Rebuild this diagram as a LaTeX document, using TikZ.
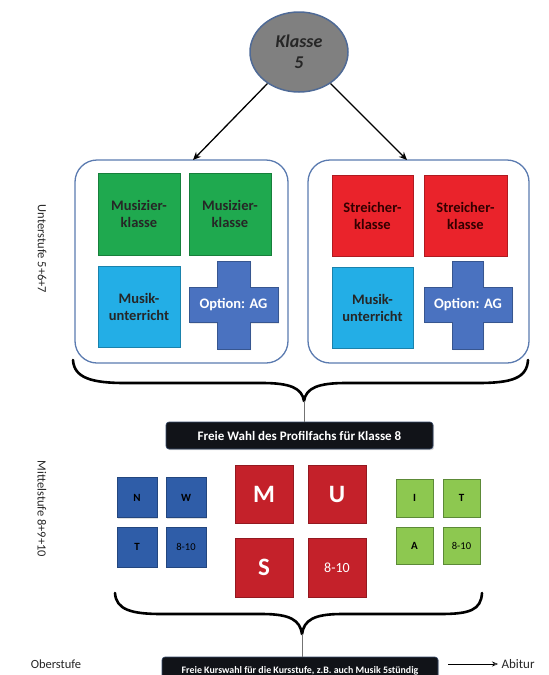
\documentclass[tikz,border=0pt]{standalone}
\usepackage{fontspec}
\setmainfont{Carlito}
\usetikzlibrary{arrows.meta,shapes.geometric,shadows}
\definecolor{gGreen}{HTML}{1FA94F}
\definecolor{lBlue}{HTML}{23AEE6}
\definecolor{xBlue}{HTML}{4A72C0}
\definecolor{tRed}{HTML}{EA232B}
\definecolor{mRed}{HTML}{C4212A}
\definecolor{dBlue}{HTML}{2F5DA8}
\definecolor{lGreen}{HTML}{8DC850}
\definecolor{lGreenB}{HTML}{5C8A37}
\definecolor{grpB}{HTML}{5B7BB0}
\definecolor{ellB}{HTML}{4F6A96}
\definecolor{boxK}{HTML}{111318}
\tikzset{
  sq/.style={rectangle, draw=#1!75!black, fill=#1, line width=0.6pt, align=center, inner sep=1pt,
    drop shadow={opacity=0.25, shadow xshift=1.2pt, shadow yshift=-1.2pt}},
  bigtxt/.style={font=\fontsize{14.5}{17}\selectfont\bfseries},
  grp/.style={rectangle, rounded corners=22pt, draw=grpB, line width=1.3pt, fill=white},
  crossst/.style={fill=xBlue, draw=xBlue!75!black, line width=0.6pt,
    drop shadow={opacity=0.25, shadow xshift=1.2pt, shadow yshift=-1.2pt}},
  blackbox/.style={rectangle, rounded corners=3pt, fill=boxK, draw=grpB!60!black, line width=0.6pt, text=white,
    drop shadow={opacity=0.3, shadow xshift=1.2pt, shadow yshift=-1.2pt}},
  bracest/.style={line width=2.6pt, line cap=round, line join=round},
  sidelabel/.style={font=\fontsize{12.5}{14}\selectfont, rotate=-90, text=black!85},
  smallbl/.style={font=\fontsize{11}{12}\selectfont\bfseries},
  smallnum/.style={font=\fontsize{10.5}{12}\selectfont},
}
\begin{document}
\begin{tikzpicture}[x=1pt,y=-1pt]
\useasboundingbox (0,0) rectangle (549,675);

% top ellipse
\node[ellipse, fill=black!50, draw=ellB, line width=1.5pt, minimum width=98pt, minimum height=80pt,
  align=center, font=\fontsize{18}{21}\selectfont\bfseries\itshape, text=black!85] (k) at (299,52) {Klasse\\5};

% group boxes
\node[grp, minimum width=213pt, minimum height=203pt] (L) at (181.5,261.5) {};
\node[grp, minimum width=221pt, minimum height=203pt] (R) at (418.5,261.5) {};

\coordinate (lt) at (193,160);
\coordinate (rt) at (407,160);
\draw[line width=1.3pt, -{Stealth[length=8pt,width=7pt]}] (k.225) -- (lt);
\draw[line width=1.3pt, -{Stealth[length=8pt,width=7pt]}] (k.-45) -- (rt);

% left group
\node[sq=gGreen, bigtxt, minimum width=82pt, minimum height=82pt, text=black!85] (g1) at (139,214) {Musizier-\\klasse};
\node[sq=gGreen, bigtxt, minimum width=82pt, minimum height=82pt, text=black!85] (g2) at (230,214) {Musizier-\\klasse};
\node[sq=lBlue, bigtxt, minimum width=82pt, minimum height=81pt, text=black!85] (b1) at (139,306.5) {Musik-\\unterricht};
\draw[crossst] (189,287.5) -- (217,287.5) -- (217,261) -- (250,261) -- (250,287.5) -- (278,287.5)
  -- (278,322.5) -- (250,322.5) -- (250,349) -- (217,349) -- (217,322.5) -- (189,322.5) -- cycle;
\node[bigtxt, text=white] (o1) at (233.5,305) {Option: AG};

% right group
\node[sq=tRed, bigtxt, minimum width=81pt, minimum height=81pt, text=black!80!red] (r1) at (372.5,215.5) {Streicher-\\klasse};
\node[sq=tRed, bigtxt, minimum width=83pt, minimum height=81pt, text=black!80!red] (r2) at (465.5,215.5) {Streicher-\\klasse};
\node[sq=lBlue, bigtxt, minimum width=81pt, minimum height=81pt, text=black!85] (b2) at (372.5,307.5) {Musik-\\unterricht};
\draw[crossst] (424,287) -- (452,287) -- (452,261) -- (483,261) -- (483,287) -- (512,287)
  -- (512,322) -- (483,322) -- (483,349) -- (452,349) -- (452,322) -- (424,322) -- cycle;
\node[bigtxt, text=white] (o2) at (468,304.5) {Option: AG};

% side labels
\node[sidelabel] (u) at (42,249) {Unterstufe 5+6+7};
\node[sidelabel] (m) at (42,509) {Mittelstufe 8+9+10};

% brace 1
\coordinate (t1) at (304,401);
\draw[bracest] (73,360) .. controls (74,378) and (92,383) .. (125,383) -- (262,383)
  .. controls (290,383) and (302,388) .. (t1)
  .. controls (306,388) and (318,383) .. (346,383) -- (478,383)
  .. controls (512,383) and (527,378) .. (528,360);
\node[blackbox, minimum width=267pt, minimum height=27pt, font=\fontsize{13}{15}\selectfont\bfseries] (f1) at (299.5,435.5)
  {Freie Wahl des Profilfachs für Klasse 8};
\draw[line width=1pt, black!55] (t1) -- (t1 |- f1.north);

% middle blue
\node[sq=dBlue, smallbl, minimum width=40pt, minimum height=40pt] (n) at (137,497.5) {N};
\node[sq=dBlue, smallbl, minimum width=40pt, minimum height=40pt] (w) at (186,497.5) {W};
\node[sq=dBlue, smallbl, minimum width=40pt, minimum height=40pt] (t) at (137,547) {T};
\node[sq=dBlue, smallnum, minimum width=40pt, minimum height=40pt] (n810) at (186,547) {8-10};

% middle red
\node[sq=mRed, minimum width=58pt, minimum height=58pt, font=\fontsize{25}{27}\selectfont\bfseries, text=white] (mm) at (264,494) {M};
\node[sq=mRed, minimum width=58pt, minimum height=58pt, font=\fontsize{25}{27}\selectfont\bfseries, text=white] (mu) at (337,494) {U};
\node[sq=mRed, minimum width=58pt, minimum height=59pt, font=\fontsize{25}{27}\selectfont\bfseries, text=white] (ms) at (264,567.5) {S};
\node[sq=mRed, minimum width=58pt, minimum height=59pt, font=\fontsize{14}{16}\selectfont, text=white] (m810) at (337,567.5) {8-10};

% middle green
\node[sq=lGreen, draw=lGreenB, smallbl, minimum width=37pt, minimum height=38pt] (gi) at (414.5,498) {I};
\node[sq=lGreen, draw=lGreenB, smallbl, minimum width=37pt, minimum height=38pt] (gt) at (461.5,498) {T};
\node[sq=lGreen, draw=lGreenB, smallbl, minimum width=37pt, minimum height=37pt] (ga) at (414.5,545.5) {A};
\node[sq=lGreen, draw=lGreenB, smallnum, minimum width=37pt, minimum height=37pt] (g810) at (461.5,545.5) {8-10};

% brace 2
\coordinate (t2) at (302,634);
\draw[bracest] (115,593) .. controls (116,610) and (132,614) .. (162,614) -- (262,614)
  .. controls (290,614) and (300,620) .. (t2)
  .. controls (304,620) and (314,614) .. (342,614) -- (440,614)
  .. controls (470,614) and (481,610) .. (482,593);
\node[blackbox, minimum width=276pt, minimum height=28pt, font=\fontsize{9.9}{11}\selectfont\bfseries] (f2) at (300,671)
  {Freie Kurswahl für die Kursstufe, z.B. auch Musik 5stündig};
\draw[line width=1pt, black!55] (t2) -- (t2 |- f2.north);

% bottom labels
\node[font=\fontsize{12.5}{14}\selectfont, text=black!85] (ob) at (56,664) {Oberstufe};
\node[font=\fontsize{13}{15}\selectfont, text=black!85, anchor=west] (ab) at (498,664) {Abitur};
\draw[line width=0.6pt, -{Stealth[length=6pt,width=5pt,open]}] (f2.east |- ab) ++(10,0) coordinate (as) -- (ab.west);
\end{tikzpicture}
\end{document}
